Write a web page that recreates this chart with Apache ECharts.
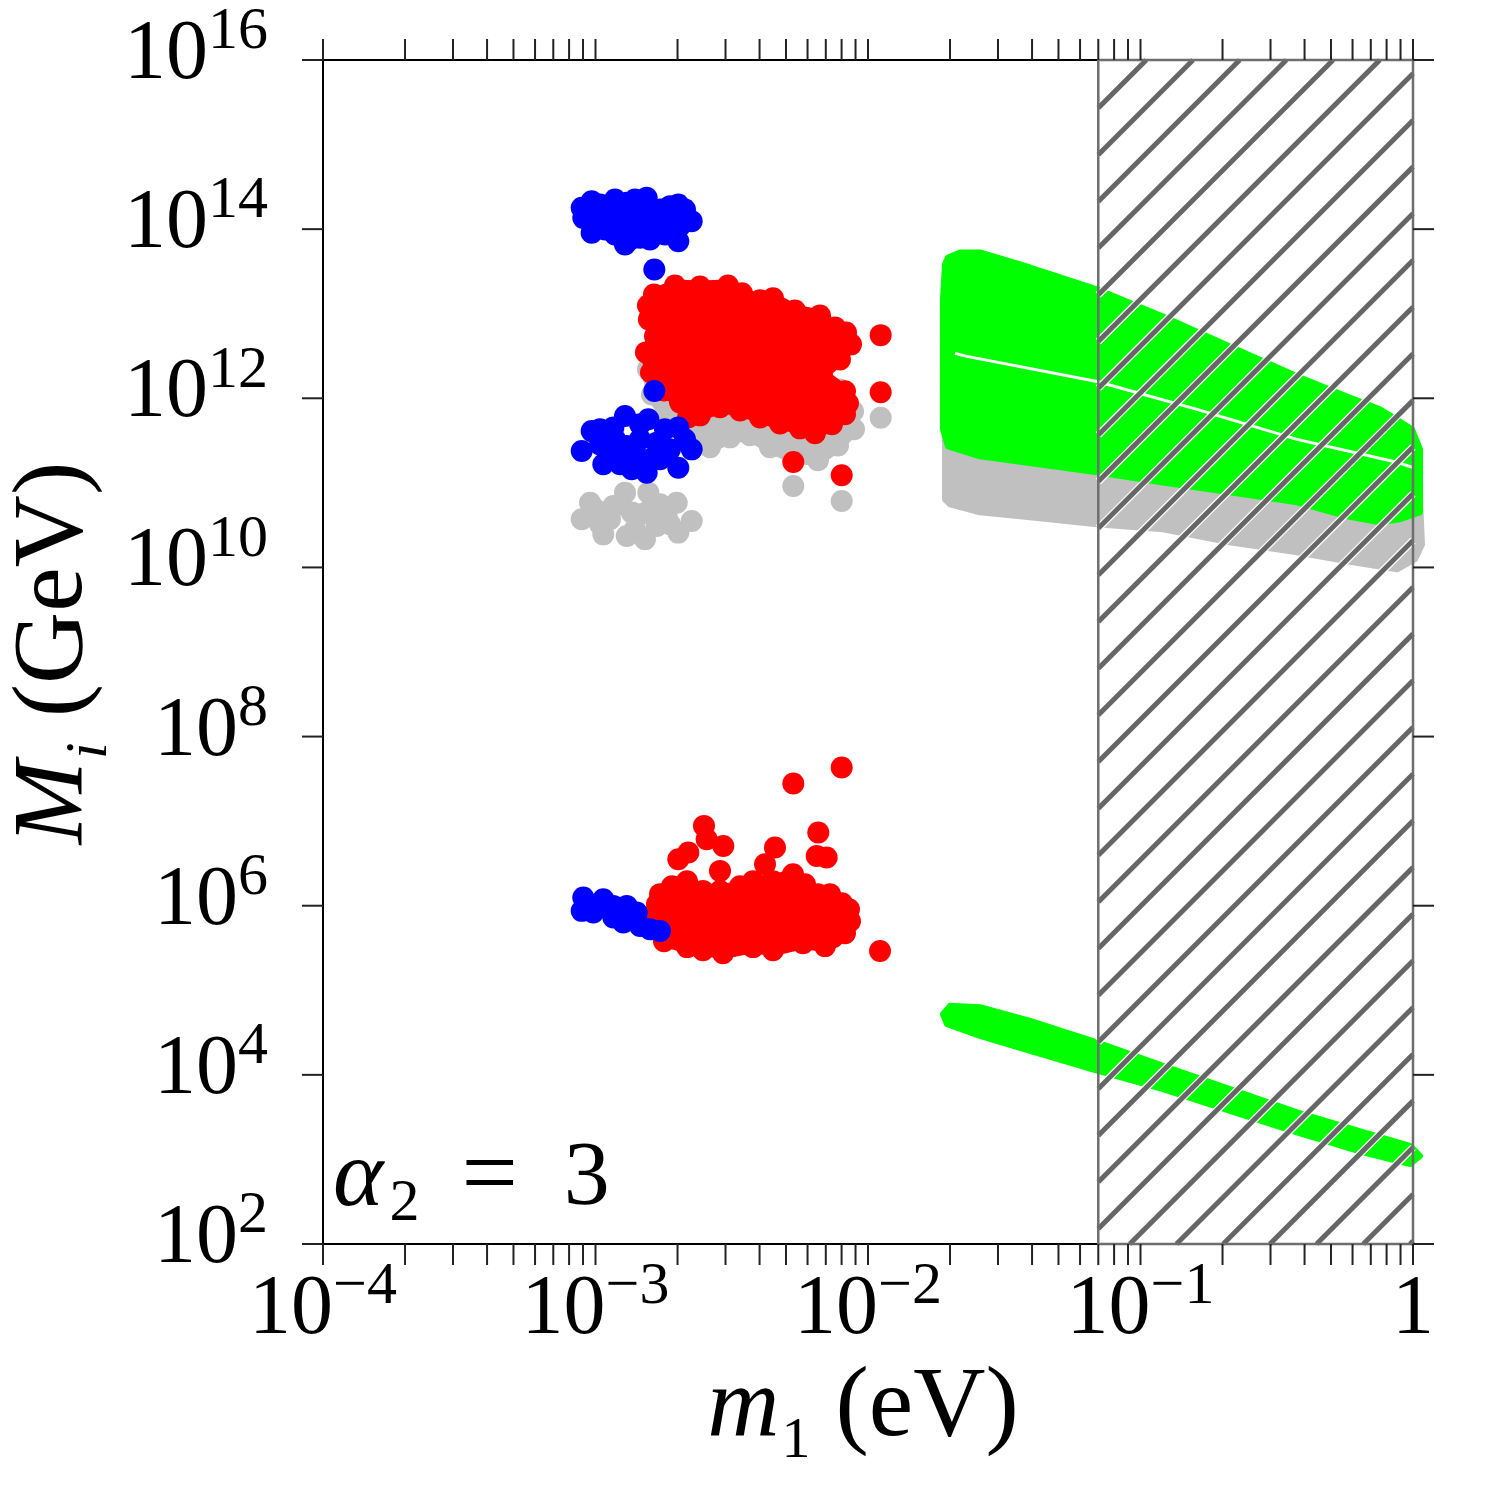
<!DOCTYPE html>
<html><head><meta charset="utf-8">
<script src="https://cdn.jsdelivr.net/npm/echarts@6.0.0/dist/echarts.min.js"></script>
<style>html,body{margin:0;padding:0;background:#fff}#c{width:1500px;height:1500px}</style>
</head><body><div id="c"></div>
<script>
// ---------- axis ranges / ticks ----------
const xMin = 1e-4, xMax = 1;
const yMin = 1e2, yMax = 1e16;
const xDecades = [1e-4, 1e-3, 1e-2, 1e-1, 1];
const xTickMultipliers = [1, 2, 3, 4, 5, 6, 7, 8, 9];
const xLabelBase = ['10', '10', '10', '10', '1'];
const xLabelExp = ['−4', '−3', '−2', '−1', ''];
const yLabelValues = [1e2, 1e4, 1e6, 1e8, 1e10, 1e12, 1e14, 1e16];
const yLabelExp = ['2', '4', '6', '8', '10', '12', '14', '16'];
const hatchRange = [0.07, 1];

// ---------- data (m1 [eV], M_i [GeV]) ----------
const blueHigh = [[8.90e-4,1.79e14],[9.68e-4,2.14e14],[9.02e-4,1.36e14],[9.68e-4,9.06e13],[1.068e-3,1.87e14],[1.130e-3,1.30e14],[1.179e-3,8.65e13],[1.283e-3,6.59e13],[1.302e-3,2.05e14],[1.339e-3,1.19e14],[1.417e-3,1.56e14],[1.457e-3,7.91e13],[1.541e-3,2.35e14],[1.563e-3,1.43e14],[1.585e-3,7.55e13],[1.725e-3,1.19e14],[1.877e-3,1.87e14],[2.013e-3,1.96e14],[2.042e-3,1.09e14],[2.013e-3,7.21e13],[2.254e-3,1.24e14],[1.644e-3,3.34e13],[1.230e-3,1.71e14],[1.457e-3,1.14e14],[1.039e-3,1.30e14],[1.725e-3,1.71e14],[1.799e-3,8.65e13],[1.396e-3,2.24e14],[1.039e-3,1.96e14],[1.179e-3,2.24e14],[1.653e-3,9.93e13],[1.339e-3,7.55e13],[1.083e-3,9.93e13],[1.799e-3,1.49e14],[2.130e-3,1.71e14],[9.55e-4,1.49e14]];
const blueMid = [[9.68e-4,4.09e11],[8.90e-4,2.38e11],[1.068e-3,1.66e11],[1.163e-3,4.50e11],[1.283e-3,6.17e11],[1.302e-3,2.72e11],[1.358e-3,1.45e11],[1.563e-3,5.64e11],[1.541e-3,1.32e11],[1.677e-3,2.99e11],[1.877e-3,2.49e11],[2.013e-3,1.51e11],[2.254e-3,2.49e11],[2.013e-3,4.50e11],[1.644e-3,1.22e12],[1.196e-3,2.28e11],[1.457e-3,3.27e11],[1.039e-3,2.85e11],[1.179e-3,3.27e11],[1.725e-3,1.90e11],[1.396e-3,2.17e11],[1.799e-3,4.30e11],[1.039e-3,4.30e11],[1.457e-3,4.92e11],[1.725e-3,2.85e11],[1.230e-3,1.66e11],[2.130e-3,3.27e11],[1.585e-3,1.90e11]];
const blueLow = [[9.02e-4,1.25e6],[8.90e-4,8.69e5],[9.81e-4,8.32e5],[1.068e-3,1.19e6],[1.163e-3,7.26e5],[1.163e-3,9.95e5],[1.302e-3,9.95e5],[1.417e-3,8.32e5],[1.457e-3,5.77e5],[1.585e-3,5.28e5],[1.725e-3,5.04e5],[1.265e-3,6.34e5]];
const grayLow = [[9.55e-4,5.83e10],[8.90e-4,3.71e10],[1.068e-3,2.46e10],[1.163e-3,5.32e10],[1.283e-3,7.66e10],[1.358e-3,4.45e10],[1.302e-3,2.35e10],[1.519e-3,2.15e10],[1.563e-3,7.66e10],[1.677e-3,3.09e10],[1.986e-3,5.83e10],[2.013e-3,2.58e10],[2.254e-3,3.54e10],[1.825e-3,4.06e10],[1.130e-3,3.71e10],[1.457e-3,4.25e10],[1.725e-3,5.57e10],[1.039e-3,3.24e10],[1.230e-3,5.57e10],[1.585e-3,4.86e10],[1.877e-3,3.24e10],[9.96e-4,4.86e10],[1.396e-3,2.82e10]];
const grayUpper = [[1.558e-3,2.20e12],[1.612e-3,1.11e12],[1.845e-3,5.64e11],[2.222e-3,3.27e11],[2.632e-3,2.63e11],[3.116e-3,3.45e11],[3.690e-3,3.65e11],[4.370e-3,2.63e11],[5.306e-3,2.00e11],[6.553e-3,1.85e11],[7.760e-3,2.77e11],[8.884e-3,4.30e11],[8.809e-3,7.00e11],[7.891e-3,1.27e12],[5.628e-3,1.67e12],[2.863e-3,2.20e12],[2.042e-3,2.52e12]];
const grayUpperExtra = [[5.320e-3,9.16e10],[8.007e-3,6.10e10],[1.113e-2,5.90e11]];
const redUpper = [[1.558e-3,1.25e13],[1.639e-3,1.69e13],[1.957e-3,2.16e13],[2.418e-3,2.10e13],[3.063e-3,2.16e13],[3.448e-3,1.74e13],[4.015e-3,1.44e13],[4.481e-3,1.52e13],[5.396e-3,1.09e13],[6.665e-3,9.55e12],[7.565e-3,6.89e12],[8.305e-3,6.01e12],[8.663e-3,4.34e12],[7.891e-3,2.88e12],[6.779e-3,1.92e12],[8.234e-3,1.21e12],[8.445e-3,8.71e11],[8.234e-3,6.46e11],[7.376e-3,4.92e11],[6.390e-3,3.85e11],[5.628e-3,4.41e11],[4.754e-3,5.05e11],[4.015e-3,5.94e11],[3.391e-3,7.19e11],[2.863e-3,7.82e11],[2.418e-3,6.28e11],[2.185e-3,5.94e11],[2.042e-3,8.95e11],[1.784e-3,1.24e12],[1.598e-3,2.02e12],[1.532e-3,3.49e12],[1.653e-3,5.40e12],[1.571e-3,8.57e12]];
const redUpperExtra = [[1.113e-2,5.58e12],[1.113e-2,1.18e12],[5.320e-3,1.76e11],[8.007e-3,1.23e11]];
const redLower = [[1.725e-3,1.37e6],[1.909e-3,1.70e6],[2.167e-3,1.95e6],[2.480e-3,1.49e6],[2.863e-3,1.49e6],[3.391e-3,1.70e6],[3.784e-3,1.95e6],[4.481e-3,1.95e6],[5.306e-3,2.36e6],[5.872e-3,1.79e6],[6.553e-3,1.37e6],[7.252e-3,1.37e6],[8.027e-3,1.07e6],[8.516e-3,9.10e5],[8.589e-3,6.56e5],[8.234e-3,4.73e5],[7.439e-3,4.25e5],[6.952e-3,3.33e5],[5.773e-3,3.61e5],[4.481e-3,2.98e5],[3.784e-3,3.24e5],[2.937e-3,2.75e5],[2.480e-3,2.98e5],[2.167e-3,3.24e5],[1.784e-3,3.81e5],[1.612e-3,5.28e5],[1.571e-3,7.31e5],[1.681e-3,1.04e6]];
const redLowerExtra = [[8.007e-3,4.31e7],[5.320e-3,2.79e7],[6.570e-3,7.33e6],[2.501e-3,8.79e6],[2.558e-3,6.11e6],[2.944e-3,5.09e6],[2.013e-3,3.55e6],[2.191e-3,4.26e6],[2.863e-3,2.58e6],[4.557e-3,4.88e6],[4.188e-3,3.10e6],[1.107e-2,2.92e5],[7.052e-3,3.72e6],[6.482e-3,3.88e6]];
const greenUpper = [[1.966e-2,4.63e13],[2.176e-2,5.31e13],[2.576e-2,5.31e13],[3.932e-2,3.52e13],[6.923e-2,1.94e13],[0.1209,9.29e12],[0.2130,4.11e12],[0.3752,1.82e12],[0.5725,1.05e12],[0.7565,7.40e11],[0.9915,4.30e11],[1.061,2.49e11],[1.061,4.48e10],[0.8960,3.71e10],[0.7565,3.41e10],[0.5725,4.02e10],[0.3752,5.89e10],[0.2130,7.73e10],[0.1209,1.01e11],[6.923e-2,1.33e11],[2.576e-2,2.06e11],[1.966e-2,2.70e11],[1.884e-2,4.30e11],[1.884e-2,1.48e13],[1.917e-2,3.83e13]];
const greenGap = [[2.086e-2,3.40e12],[2.308e-2,3.13e12],[6.923e-2,1.58e12],[0.1612,7.40e11],[0.3752,3.27e11],[0.8737,1.75e11],[1.0,1.52e11]];
const greenLower = [[1.884e-2,5.22e4],[2.000e-2,6.55e4],[2.576e-2,6.31e4],[3.932e-2,4.36e4],[6.923e-2,2.42e4],[0.1209,1.28e4],[0.2130,6.78e3],[0.3752,3.60e3],[0.6553,2.10e3],[0.9750,1.45e3],[1.061,1.10e3],[0.9750,881],[0.6553,1.21e3],[0.3752,2.09e3],[0.2130,3.76e3],[0.1209,6.78e3],[6.923e-2,1.12e4],[3.932e-2,1.92e4],[2.576e-2,2.89e4],[1.950e-2,3.98e4]];
const grayBand = [[1.917e-2,3.27e11],[6.923e-2,1.90e11],[0.2130,1.10e11],[0.5725,6.38e10],[1.061,6.38e10],[1.079,1.87e10],[1.017,1.25e10],[0.8737,9.50e9],[0.5725,1.18e10],[0.3752,1.51e10],[0.2130,1.98e10],[0.1209,2.82e10],[6.923e-2,3.24e10],[3.932e-2,3.91e10],[2.576e-2,4.48e10],[2.000e-2,5.57e10],[1.917e-2,6.38e10]];

// ---------- styles ----------
const FONT = '"Liberation Serif","DejaVu Serif",serif';
const BLUE = '#0000ff', RED = '#ff0000', GREEN = '#00ff00', GRAY = '#c0c0c0', HATCH = '#666666';
const TICK = 21;
const DOT = 22;
const RICH_TICK = {
  b: {fontSize: 84, fontFamily: FONT, lineHeight: 100, fill: '#000'},
  s: {fontSize: 60, fontFamily: FONT, lineHeight: 100, padding: [0, 0, 47, 0], fill: '#000'}
};

const xTickValues = [];
xDecades.slice(0, -1).forEach(d => xTickMultipliers.forEach(m => xTickValues.push(d * m)));
xTickValues.push(xDecades[xDecades.length - 1]);

function dots(data, color, z) {
  return {type: 'scatter', data: data, symbol: 'circle', symbolSize: DOT, clip: false, silent: true, z: z,
    itemStyle: {color: color, opacity: 1}, emphasis: {disabled: true}};
}
function blob(data, color, w, z) {
  return {type: 'custom', data: data, clip: false, silent: true, z: z,
    renderItem: function (params, api) {
      if (params.dataIndex !== 0) return null;
      return {type: 'polygon', shape: {points: data.map(p => api.coord(p))},
        style: {fill: color, stroke: color, lineWidth: w, lineJoin: 'round'}};
    }};
}

const axisCommon = {
  type: 'log', logBase: 10, splitLine: {show: false}, axisTick: {show: false}, axisLabel: {show: false},
  minorTick: {show: false}, axisLine: {show: true, onZero: false, lineStyle: {color: '#000', width: 2}}
};

const series = [
  blob(grayBand, GRAY, 6, 1),
  blob(grayUpper, GRAY, 12, 1), dots(grayUpper, GRAY, 1), dots(grayUpperExtra, GRAY, 1), dots(grayLow, GRAY, 1),
  blob(greenUpper, GREEN, 6, 2),
  {type: 'line', data: greenGap, symbol: 'none', showSymbol: false, silent: true, z: 2,
    lineStyle: {color: '#ffffff', width: 3}},
  blob(greenLower, GREEN, 6, 2),
  blob(redUpper, RED, 12, 3), dots(redUpper, RED, 3), dots(redUpperExtra, RED, 3),
  blob(redLower, RED, 12, 3), dots(redLower, RED, 3), dots(redLowerExtra, RED, 3),
  dots(blueHigh, BLUE, 4), dots(blueMid, BLUE, 4), dots(blueLow, BLUE, 4),
  // hatched excluded region
  {type: 'custom', data: [[hatchRange[0], yMax]], clip: false, silent: true, z: 6,
    renderItem: function (params, api) {
      const a = api.coord([hatchRange[0], yMax]);
      const b = api.coord([hatchRange[1], yMin]);
      const x0 = a[0], y0 = a[1], x1 = b[0], y1 = b[1];
      const kids = [];
      for (let c = x0 + y0 + 48; c < x1 + y1; c += 46.7) {
        const xa = Math.max(x0, c - y1), xb = Math.min(x1, c - y0);
        if (xb <= xa) continue;
        const seg = {x1: xa, y1: c - xa, x2: xb, y2: c - xb};
        kids.push({type: 'line', shape: seg, style: {stroke: '#ffffff', lineWidth: 7.5}});
        kids.push({type: 'line', shape: seg, style: {stroke: HATCH, lineWidth: 5}});
      }
      kids.push({type: 'rect', shape: {x: x0, y: y0, width: x1 - x0, height: y1 - y0},
        style: {fill: null, stroke: '#6e6e6e', lineWidth: 2.5}});
      return {type: 'group', children: kids};
    }},
  // x ticks (bottom & top, outward)
  {type: 'custom', data: xTickValues.map(v => [v, yMin]), clip: false, silent: true, z: 7,
    renderItem: function (params, api) {
      const v = api.value(0);
      const pb = api.coord([v, yMin]), pt = api.coord([v, yMax]);
      const st = {stroke: '#222', lineWidth: 2};
      return {type: 'group', children: [
        {type: 'line', shape: {x1: pb[0], y1: pb[1], x2: pb[0], y2: pb[1] + TICK}, style: st},
        {type: 'line', shape: {x1: pt[0], y1: pt[1] - TICK, x2: pt[0], y2: pt[1]}, style: st}
      ]};
    }},
  // y ticks (left & right, outward)
  {type: 'custom', data: yLabelValues.map(v => [xMin, v]), clip: false, silent: true, z: 7,
    renderItem: function (params, api) {
      const v = api.value(1);
      const pl = api.coord([xMin, v]), pr = api.coord([xMax, v]);
      const st = {stroke: '#222', lineWidth: 2};
      return {type: 'group', children: [
        {type: 'line', shape: {x1: pl[0] - TICK, y1: pl[1], x2: pl[0], y2: pl[1]}, style: st},
        {type: 'line', shape: {x1: pr[0], y1: pr[1], x2: pr[0] + TICK, y2: pr[1]}, style: st}
      ]};
    }},
  // x tick labels
  {type: 'custom', data: xDecades.map(v => [v, yMin]), clip: false, silent: true, z: 7,
    renderItem: function (params, api) {
      const i = params.dataIndex;
      const p = api.coord([api.value(0), yMin]);
      const txt = xLabelExp[i] ? '{b|' + xLabelBase[i] + '}{s|' + xLabelExp[i] + '}' : '{b|' + xLabelBase[i] + '}';
      return {type: 'text', x: p[0], y: p[1] + 67,
        style: {text: txt, align: 'center', verticalAlign: 'middle', fill: '#000', rich: RICH_TICK}};
    }},
  // y tick labels
  {type: 'custom', data: yLabelValues.map(v => [xMin, v]), clip: false, silent: true, z: 7,
    renderItem: function (params, api) {
      const i = params.dataIndex;
      const p = api.coord([xMin, api.value(1)]);
      return {type: 'text', x: p[0] - 55, y: p[1] - 4,
        style: {text: '{b|10}{s|' + yLabelExp[i] + '}', align: 'right', verticalAlign: 'middle', fill: '#000', rich: RICH_TICK}};
    }}
];

const chart = echarts.init(document.getElementById('c'), null, {renderer: 'canvas'});
chart.setOption({
  animation: false,
  backgroundColor: '#ffffff',
  grid: {left: 323, top: 60, width: 1090, height: 1184, containLabel: false, outerBoundsMode: 'none'},
  xAxis: [
    Object.assign({}, axisCommon, {min: xMin, max: xMax, position: 'bottom'}),
    Object.assign({}, axisCommon, {min: xMin, max: xMax, position: 'top'})
  ],
  yAxis: [
    Object.assign({}, axisCommon, {min: yMin, max: yMax, position: 'left'}),
    Object.assign({}, axisCommon, {min: yMin, max: yMax, position: 'right'})
  ],
  series: series,
  graphic: [
    {type: 'text', x: 863, y: 1409, silent: true, z: 10,
      style: {text: '{i|m}{sub|1}{n| (eV)}', align: 'center', verticalAlign: 'middle', fill: '#000',
        rich: {
          i: {fontSize: 100, fontStyle: 'italic', fontFamily: FONT, lineHeight: 110, fill: '#000'},
          sub: {fontSize: 58, fontFamily: FONT, lineHeight: 110, padding: [66, 0, 0, 2], fill: '#000'},
          n: {fontSize: 100, fontFamily: FONT, lineHeight: 110, fill: '#000'}
        }}},
    {type: 'text', x: 55, y: 653, rotation: Math.PI / 2, silent: true, z: 10,
      style: {text: '{i|M}{sub|i}{n| (GeV)}', align: 'center', verticalAlign: 'middle', fill: '#000',
        rich: {
          i: {fontSize: 100, fontStyle: 'italic', fontFamily: FONT, lineHeight: 110, fill: '#000'},
          sub: {fontSize: 60, fontStyle: 'italic', fontFamily: FONT, lineHeight: 110, padding: [71, 0, 0, 2], fill: '#000'},
          n: {fontSize: 100, fontFamily: FONT, lineHeight: 110, fill: '#000'}
        }}},
    {type: 'text', x: 333, y: 1180, silent: true, z: 10,
      style: {text: '{a|α}{sub|2}{eq|=}{n|3}', align: 'left', verticalAlign: 'middle', fill: '#000',
        rich: {
          a: {fontSize: 96, fontStyle: 'italic', fontFamily: FONT, lineHeight: 100, fill: '#000'},
          sub: {fontSize: 60, fontFamily: FONT, lineHeight: 100, padding: [48, 0, 0, 6], fill: '#000'},
          eq: {fontSize: 100, fontFamily: FONT, lineHeight: 100, padding: [0, 46, 0, 42], fill: '#000'},
          n: {fontSize: 92, fontFamily: FONT, lineHeight: 100, fill: '#000'}
        }}}
  ]
});
</script>
</body></html>
